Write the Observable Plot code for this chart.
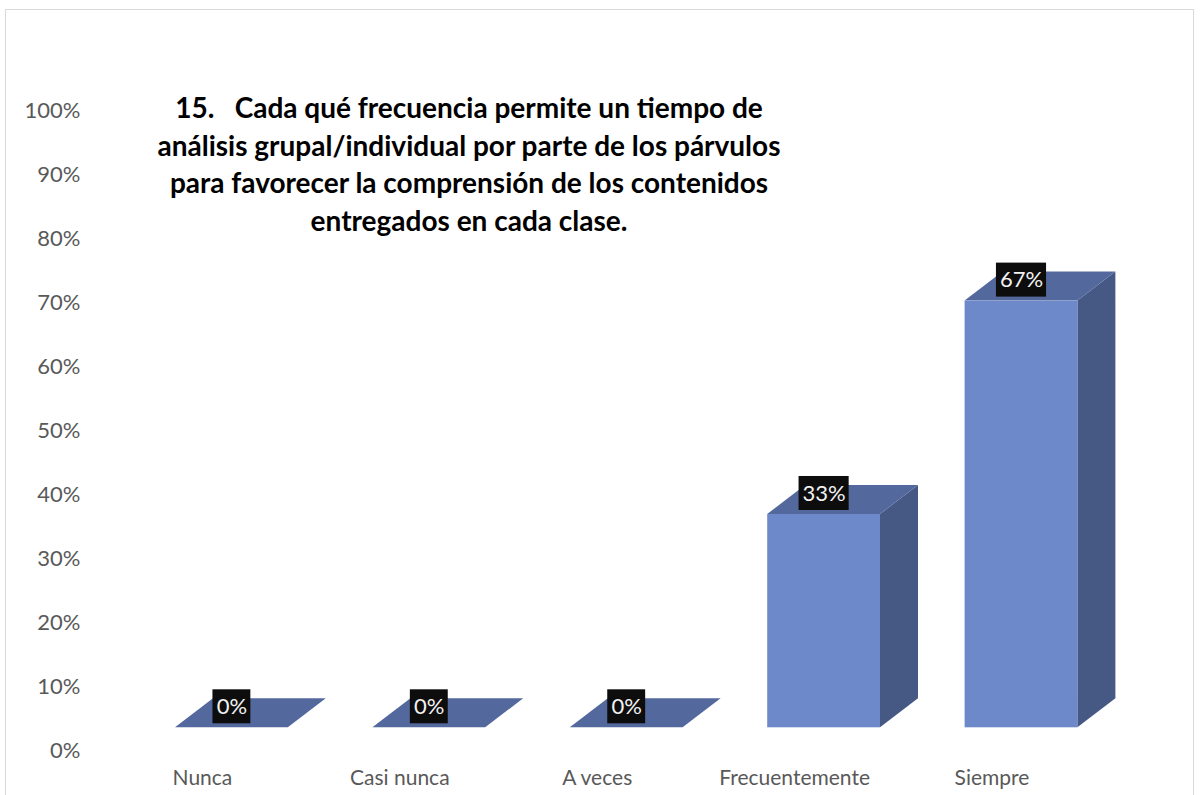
<!DOCTYPE html>
<html>
<head>
<meta charset="utf-8">
<script src="https://cdn.jsdelivr.net/npm/d3@7"></script>
<script src="https://cdn.jsdelivr.net/npm/@observablehq/plot@0.6"></script>
<style>
  html, body { margin: 0; padding: 0; background: #ffffff; }
  #wrap { position: relative; width: 1204px; height: 795px; overflow: hidden; font-family: Lato, "Open Sans", sans-serif; }
  #border { position: absolute; left: 5px; top: 9px; width: 1189px; height: 800px; border: 1px solid #d9d9d9; box-sizing: border-box; }
  #title { position: absolute; left: 119px; width: 700px; top: 89px; text-align: center; font-weight: bold; font-size: 28px; line-height: 37.5px; color: #000; white-space: pre; }
  #chart { position: absolute; left: 0; top: 0; }
</style>
</head>
<body>
<div id="wrap">
  <div id="border"></div>
  <div id="chart"></div>
  <div id="title"></div>
</div>
<script>
// ---- data ----
const categories = ["Nunca", "Casi nunca", "A veces", "Frecuentemente", "Siempre"];
const values = [0, 0, 0, 0.3333, 0.6667];
const valueLabels = ["0%", "0%", "0%", "33%", "67%"];
const yTicks = [0, 0.1, 0.2, 0.3, 0.4, 0.5, 0.6, 0.7, 0.8, 0.9, 1.0];
const titleLines = [
  "15.   Cada qué frecuencia permite un tiempo de",
  "análisis grupal/individual por parte de los párvulos",
  "para favorecer la comprensión de los contenidos",
  "entregados en cada clase."
];

// ---- layout (pixels) ----
const W = 1204, H = 795;
const xRange = [231.4, 1021];
const yRange = [750, 110];
const pxX = (xRange[1] - xRange[0]) / (categories.length - 1);
const pxY = (yRange[0] - yRange[1]);
const ux = px => px / pxX;
const uy = px => px / pxY;
const halfW = ux(56.4), depthX = ux(38), depthY = uy(29), floorY = uy(22.7);

const idx = categories.map((c, i) => i);
const frontFace = idx.map(i => ({c: categories[i], x1: i - halfW, x2: i + halfW, y1: floorY, y2: floorY + values[i]}));
const topFace = idx.flatMap(i => [
  {c: categories[i], y: floorY + values[i], x1: i - halfW, x2: i + halfW},
  {c: categories[i], y: floorY + values[i] + depthY, x1: i - halfW + depthX, x2: i + halfW + depthX}
]);
const sideFace = idx.flatMap(i => [
  {c: categories[i], x: i + halfW, y1: floorY, y2: floorY + values[i]},
  {c: categories[i], x: i + halfW + depthX, y1: floorY + depthY, y2: floorY + values[i] + depthY}
]);
const labelBoxes = idx.map(i => {
  const w = ux(12.2 * valueLabels[i].length + 13.5);
  return {c: categories[i], label: valueLabels[i], x: i, x1: i - w / 2, x2: i + w / 2,
          y1: floorY + values[i] + uy(4), y2: floorY + values[i] + uy(38), y: floorY + values[i] + uy(21)};
});

const chart = Plot.plot({
  width: W, height: H,
  marginTop: yRange[1], marginBottom: H - yRange[0], marginLeft: 88, marginRight: 0,
  style: {fontFamily: "Lato, 'Open Sans', sans-serif", color: "#595959", background: "transparent"},
  x: {type: "linear", domain: [0, categories.length - 1], range: xRange, axis: null},
  y: {type: "linear", domain: [0, 1], range: yRange, axis: null},
  marks: [
    Plot.axisY({ticks: yTicks, tickFormat: d3.format(".0%"), tickSize: 0, tickPadding: 8, fontSize: 22, label: null}),
    Plot.areaY(sideFace, {x: "x", y1: "y1", y2: "y2", z: "c", fill: "#465884", curve: "linear"}),
    Plot.areaX(topFace, {y: "y", x1: "x1", x2: "x2", z: "c", fill: "#53699d", curve: "linear"}),
    Plot.rect(frontFace, {x1: "x1", x2: "x2", y1: "y1", y2: "y2", fill: "#6e89c9"}),
    Plot.rect(labelBoxes, {x1: "x1", x2: "x2", y1: "y1", y2: "y2", fill: "#0d0d0d"}),
    Plot.text(labelBoxes, {x: "x", y: "y", text: "label", fill: "#f2f2f2", fontSize: 22, lineAnchor: "middle"}),
    Plot.text(idx, {x: d => d, y: 0, text: d => categories[d], dx: -29.5, dy: 28, fontSize: 21, fill: "#595959", lineAnchor: "middle"})
  ]
});
document.getElementById("chart").appendChild(chart);
document.getElementById("title").textContent = titleLines.join("\n");
</script>
</body>
</html>
